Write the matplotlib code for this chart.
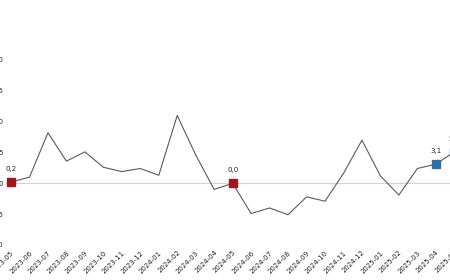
import matplotlib.pyplot as plt

months = ['2023-05', '2023-06', '2023-07', '2023-08', '2023-09', '2023-10',
          '2023-11', '2023-12', '2024-01', '2024-02', '2024-03', '2024-04',
          '2024-05', '2024-06', '2024-07', '2024-08', '2024-09', '2024-10',
          '2024-11', '2024-12', '2025-01', '2025-02', '2025-03', '2025-04',
          '2025-05']
values = [0.2, 1.0, 8.2, 3.6, 5.1, 2.6, 1.9, 2.4, 1.3, 11.0, 4.6, -1.0,
          0.0, -4.9, -4.0, -5.1, -2.2, -2.9, 1.6, 7.0, 1.2, -1.9, 2.4, 3.1,
          5.1]
yticks = [-10, -5, 0, 5, 10, 15, 20]

# highlighted points: index -> colour
red_idx = [0, 12]
blue_idx = [23, 24]
red = '#a3161c'
blue = '#2f6ea6'

x = list(range(len(months)))

fig = plt.figure(figsize=(4.5, 2.8), dpi=100)
# axes run a little past the right edge, like the cropped original
ax = fig.add_axes([6 / 450, 32 / 280, 464 / 450, 203 / 280])

ax.axhline(0, color='#d4d4d4', lw=0.8, zorder=1)
ax.plot(x, values, color='#5a5a5a', lw=0.8, zorder=2)

for i in red_idx:
    ax.plot(x[i], values[i], marker='s', ms=6, color=red, zorder=3)
for i in blue_idx:
    ax.plot(x[i], values[i], marker='s', ms=6, color=blue, zorder=3)
for i in red_idx + blue_idx:
    ax.annotate(f'{values[i]:.1f}'.replace('.', ','), (x[i], values[i]),
                xytext=(0, 8), textcoords='offset points', ha='center',
                fontsize=5, color='#222222')

ax.set_xlim(-5 / 18.43, 458 / 18.43)
ax.set_ylim(-(248 - 183.3) / 6.165, (183.3 - 45) / 6.165)
ax.set_yticks(yticks)
ax.set_yticklabels([str(t) for t in yticks], fontsize=5, color='#222222')
ax.set_xticks(x)
ax.set_xticklabels(months, rotation=45, ha='right', rotation_mode='anchor',
                   fontsize=5, color='#222222')
ax.tick_params(length=0)
ax.tick_params(axis='y', pad=2)
ax.tick_params(axis='x', pad=1)
for s in ax.spines.values():
    s.set_visible(False)

fig.savefig('out.png', dpi=100)
